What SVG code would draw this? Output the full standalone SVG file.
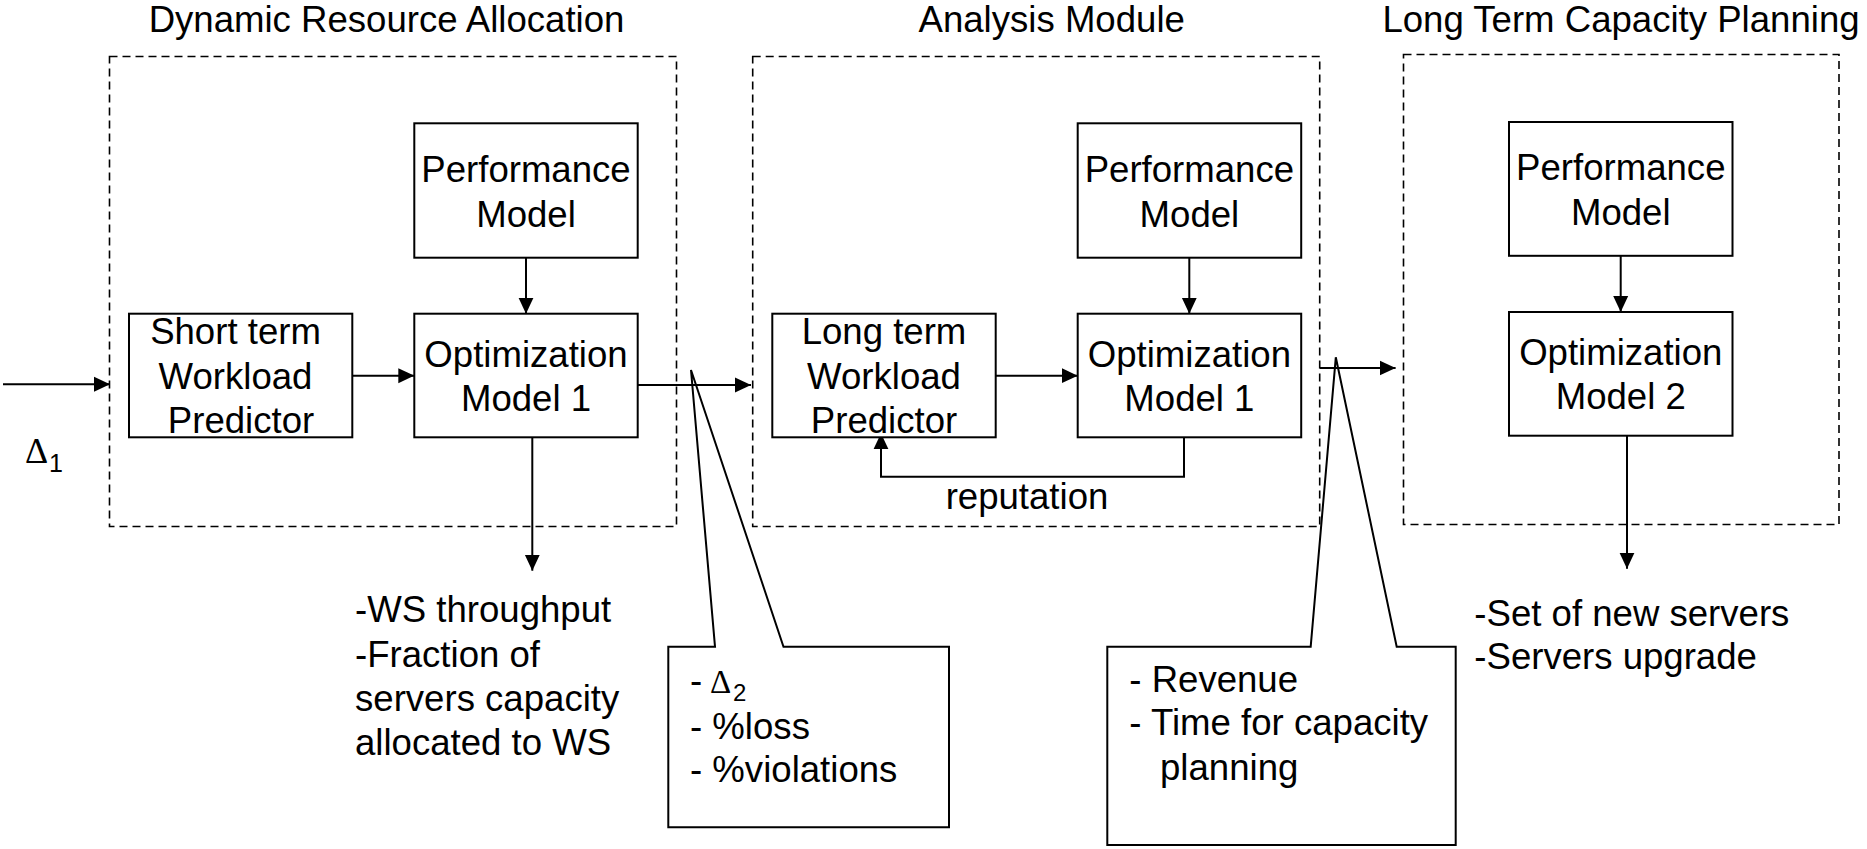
<svg xmlns="http://www.w3.org/2000/svg" width="1867" height="849" viewBox="0 0 1867 849">
<defs>
<style>
text{font-family:"Liberation Sans",Arial,sans-serif;font-size:36.6px;fill:#000}
.c{text-anchor:middle}
.box{fill:#fff;stroke:#000;stroke-width:2}
.grp{fill:none;stroke:#000;stroke-width:1.6;stroke-dasharray:8 5}
.ln{fill:none;stroke:#000;stroke-width:2}
.call{fill:none;stroke:#000;stroke-width:2;stroke-linejoin:miter}
.sym{font-family:"Liberation Serif","Times New Roman",serif}
</style>
<marker id="ah" markerUnits="userSpaceOnUse" markerWidth="16" markerHeight="16" viewBox="0 0 16 16" refX="16" refY="8" orient="auto">
<path d="M0,0.5 L16,8 L0,15.5 z" fill="#000"/>
</marker>
</defs>
<rect width="1867" height="849" fill="#fff"/>

<g id="group-dra">
<rect class="grp" x="109.5" y="56.5" width="567" height="470"/>
<text class="c" x="386.5" y="31.5">Dynamic Resource Allocation</text>
</g>
<g id="group-analysis">
<rect class="grp" x="752.7" y="56.5" width="567" height="470"/>
<text class="c" x="1051.7" y="31.5">Analysis Module</text>
</g>
<g id="group-ltcp">
<rect class="grp" x="1403.5" y="54.5" width="435.5" height="470"/>
<text class="c" x="1621" y="31.5">Long Term Capacity Planning</text>
</g>

<g id="connectors">
<line class="ln" x1="3" y1="384.3" x2="110" y2="384.3" marker-end="url(#ah)"/>
<line class="ln" x1="352.3" y1="375.7" x2="414.3" y2="375.7" marker-end="url(#ah)"/>
<line class="ln" x1="526" y1="257.7" x2="526" y2="313.7" marker-end="url(#ah)"/>
<line class="ln" x1="637.7" y1="385" x2="751" y2="385" marker-end="url(#ah)"/>
<line class="ln" x1="532.3" y1="437.3" x2="532.3" y2="570.7" marker-end="url(#ah)"/>
<line class="ln" x1="995.7" y1="375.7" x2="1077.7" y2="375.7" marker-end="url(#ah)"/>
<line class="ln" x1="1189.3" y1="257.7" x2="1189.3" y2="313.7" marker-end="url(#ah)"/>
<polyline class="ln" points="1184,431.7 1184,476.7 881,476.7 881,433.3" marker-end="url(#ah)"/>
<line class="ln" x1="1319.7" y1="368" x2="1395.6" y2="368" marker-end="url(#ah)"/>
<line class="ln" x1="1620.7" y1="255.8" x2="1620.7" y2="312" marker-end="url(#ah)"/>
<line class="ln" x1="1627" y1="435.7" x2="1627" y2="568.7" marker-end="url(#ah)"/>
<text class="c" x="1027" y="509">reputation</text>
</g>

<g id="short-term-predictor">
<rect class="box" x="129" y="313.7" width="223.3" height="123.6"/>
<text class="c" x="235.5" y="344">Short term</text>
<text class="c" x="235.5" y="389">Workload</text>
<text class="c" x="241" y="433">Predictor</text>
</g>
<g id="perf-model-1">
<rect class="box" x="414.3" y="123.3" width="223.4" height="134.4"/>
<text class="c" x="526" y="181.7">Performance</text>
<text class="c" x="526" y="226.7">Model</text>
</g>
<g id="opt-model-1a">
<rect class="box" x="414.3" y="313.7" width="223.4" height="123.6"/>
<text class="c" x="526" y="366.7">Optimization</text>
<text class="c" x="526" y="411">Model 1</text>
</g>
<g id="long-term-predictor">
<rect class="box" x="772.3" y="313.7" width="223.4" height="123.6"/>
<text class="c" x="884" y="344">Long term</text>
<text class="c" x="884" y="389">Workload</text>
<text class="c" x="884" y="433">Predictor</text>
</g>
<g id="perf-model-2">
<rect class="box" x="1077.7" y="123.3" width="223.5" height="134.4"/>
<text class="c" x="1189.4" y="181.7">Performance</text>
<text class="c" x="1189.4" y="226.7">Model</text>
</g>
<g id="opt-model-1b">
<rect class="box" x="1077.7" y="313.7" width="223.5" height="123.6"/>
<text class="c" x="1189.4" y="366.7">Optimization</text>
<text class="c" x="1189.4" y="411">Model 1</text>
</g>
<g id="perf-model-3">
<rect class="box" x="1509" y="122" width="223.5" height="133.8"/>
<text class="c" x="1620.8" y="180.2">Performance</text>
<text class="c" x="1620.8" y="225">Model</text>
</g>
<g id="opt-model-2">
<rect class="box" x="1509" y="312" width="223.5" height="123.7"/>
<text class="c" x="1620.8" y="365.2">Optimization</text>
<text class="c" x="1620.8" y="409.3">Model 2</text>
</g>

<g id="delta1">
<text class="sym" x="25" y="463" style="font-size:36px">Δ</text>
<text x="49" y="472" style="font-size:25px">1</text>
</g>

<g id="dra-output">
<text x="355" y="622.3">-WS throughput</text>
<text x="355" y="666.7">-Fraction of</text>
<text x="355" y="711">servers capacity</text>
<text x="355" y="755">allocated to WS</text>
</g>

<g id="callout-1">
<path class="call" d="M715,646.7 L691,370 L783.5,646.7 L949,646.7 L949,827.3 L668.3,827.3 L668.3,646.7 Z"/>
<text x="690" y="693.3">-</text>
<text class="sym" x="710" y="693.3" style="font-size:33px">Δ</text>
<text x="733" y="701" style="font-size:24px">2</text>
<text x="690" y="739">- %loss</text>
<text x="690" y="781.7">- %violations</text>
</g>

<g id="callout-2">
<path class="call" d="M1310.7,646.7 L1335.8,357.3 L1396.7,646.7 L1455.7,646.7 L1455.7,845 L1107.3,845 L1107.3,646.7 Z"/>
<text x="1129.3" y="691.7">- Revenue</text>
<text x="1129.3" y="735">- Time for capacity</text>
<text x="1160" y="780">planning</text>
</g>

<g id="ltcp-output">
<text x="1474.3" y="626">-Set of new servers</text>
<text x="1474.3" y="669.3">-Servers upgrade</text>
</g>
</svg>
